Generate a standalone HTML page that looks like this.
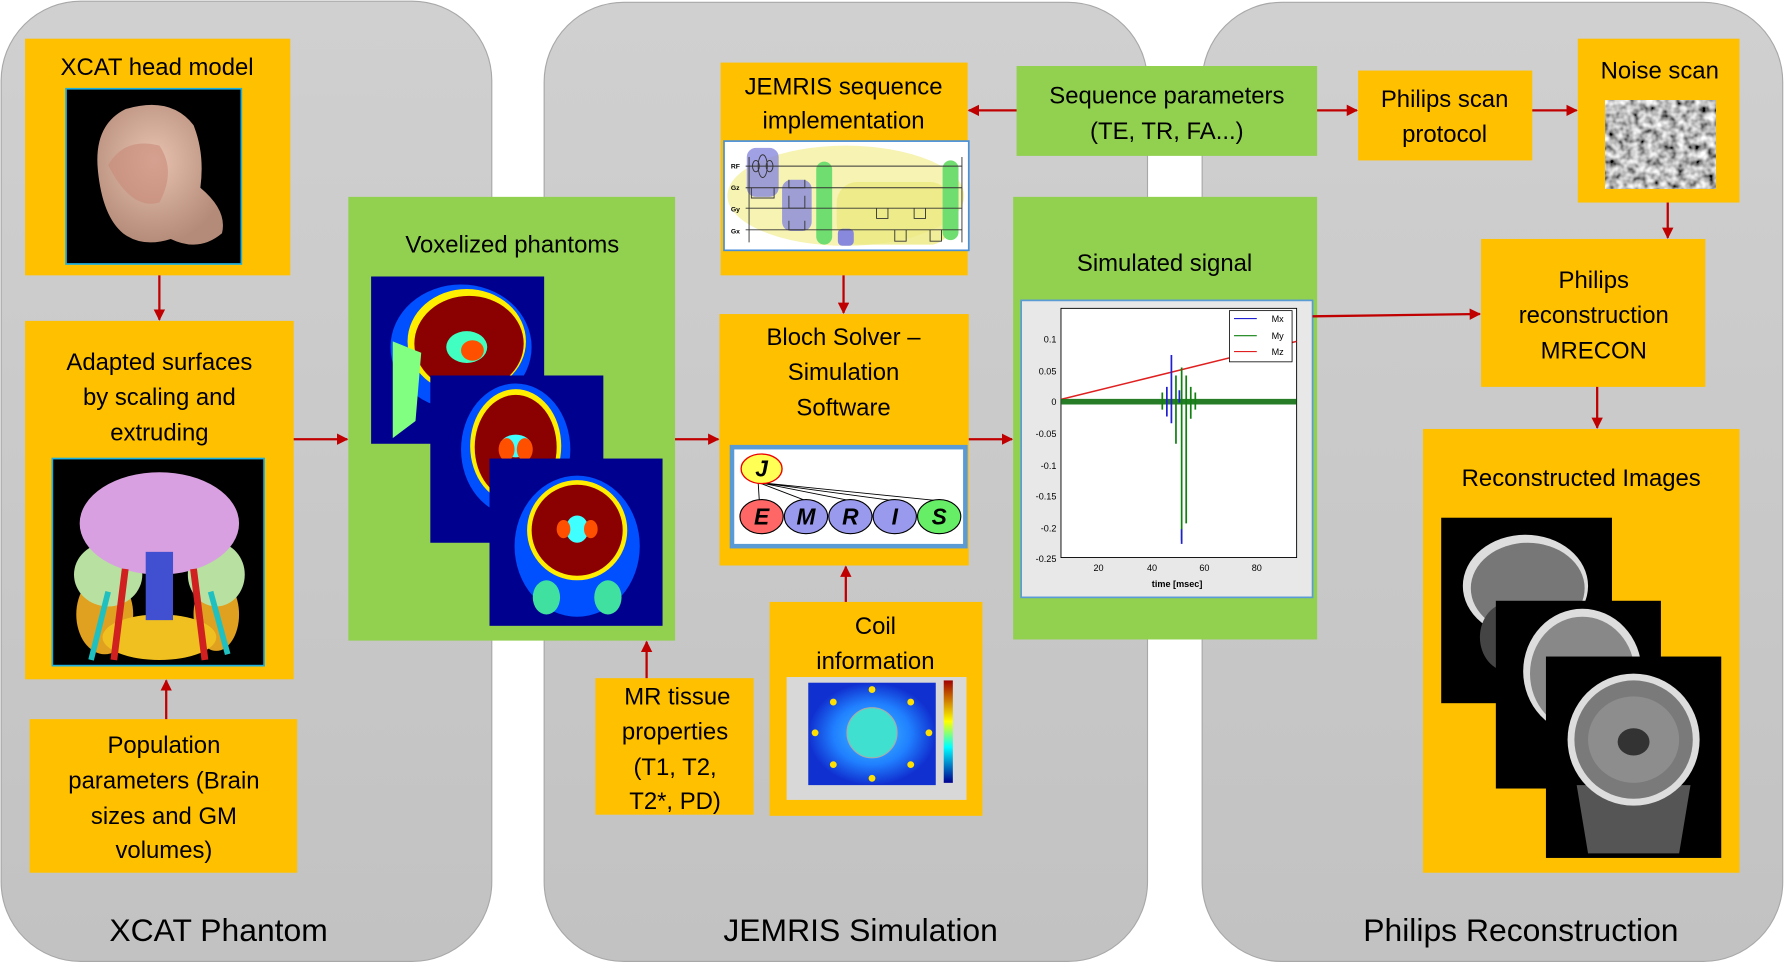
<!DOCTYPE html>
<html><head><meta charset="utf-8"><style>
html,body{margin:0;padding:0;background:#fff;width:1785px;height:974px;overflow:hidden}
svg{display:block}
text{font-family:"Liberation Sans",sans-serif;fill:#000}
</style></head><body>
<svg width="1785" height="974" viewBox="0 0 1568 856" preserveAspectRatio="none" xmlns="http://www.w3.org/2000/svg">
<defs>
<linearGradient id="pg" x1="0" y1="0" x2="0" y2="1"><stop offset="0" stop-color="#d0d0d0"/><stop offset="1" stop-color="#c2c2c2"/></linearGradient>
<marker id="ah" viewBox="0 0 10 10" refX="9" refY="5" markerWidth="5" markerHeight="5" orient="auto"><path d="M0,0L10,5L0,10z" fill="#C00000"/></marker>
<radialGradient id="skin" cx="0.45" cy="0.4" r="0.6"><stop offset="0" stop-color="#e8c2b0"/><stop offset="1" stop-color="#b48a78"/></radialGradient>
<radialGradient id="coil" cx="0.5" cy="0.5" r="0.5"><stop offset="0" stop-color="#40c0ff"/><stop offset="0.6" stop-color="#2080ff"/><stop offset="1" stop-color="#1030d0"/></radialGradient>
<linearGradient id="cbar" x1="0" y1="1" x2="0" y2="0"><stop offset="0" stop-color="#00008f"/><stop offset="0.35" stop-color="#00ffff"/><stop offset="0.6" stop-color="#ffff00"/><stop offset="1" stop-color="#a00000"/></linearGradient>
<filter id="nz" x="0" y="0" width="100%" height="100%"><feTurbulence type="fractalNoise" baseFrequency="0.18" numOctaves="2" seed="3"/><feColorMatrix type="matrix" values="0 0 0 0 0.5  0 0 0 0 0.5  0 0 0 0 0.5  3 3 3 0 -3.6" result="n"/><feComponentTransfer in="SourceGraphic"/></filter>
<filter id="nz2" x="0" y="0" width="100%" height="100%"><feTurbulence type="fractalNoise" baseFrequency="0.15" numOctaves="2" seed="5" result="t"/><feColorMatrix in="t" type="matrix" values="1.6 0 0 0 -0.3  1.6 0 0 0 -0.3  1.6 0 0 0 -0.3  0 0 0 0 1"/></filter>
</defs>

<!-- panels -->
<rect x="1" y="1" width="431" height="844" rx="70" fill="url(#pg)" stroke="#a8a8a8"/>
<rect x="478" y="2" width="530" height="843" rx="70" fill="url(#pg)" stroke="#a8a8a8"/>
<rect x="1056" y="2" width="510" height="843" rx="70" fill="url(#pg)" stroke="#a8a8a8"/>
<g font-size="28" text-anchor="middle">
<text x="192" y="827">XCAT Phantom</text>
<text x="756" y="827">JEMRIS Simulation</text>
<text x="1336" y="827">Philips Reconstruction</text>
</g>

<g fill="#FFC000">
<rect x="22" y="34" width="233" height="208"/>
<rect x="22" y="282" width="236" height="315"/>
<rect x="26" y="632" width="235" height="135"/>
<rect x="633" y="55" width="217" height="187"/>
<rect x="632" y="276" width="219" height="221"/>
<rect x="676" y="529" width="187" height="188"/>
<rect x="523" y="596" width="139" height="120"/>
<rect x="1193" y="62" width="153" height="79"/>
<rect x="1386" y="34" width="142" height="144"/>
<rect x="1301" y="210" width="197" height="130"/>
<rect x="1250" y="377" width="278" height="390"/>
</g>
<g fill="#92D050">
<rect x="306" y="173" width="287" height="390"/>
<rect x="893" y="58" width="264" height="79"/>
<rect x="890" y="173" width="267" height="389"/>
</g>

<g font-size="21" text-anchor="middle">
<text x="138" y="66">XCAT head model</text>
<text x="140" y="325">Adapted surfaces</text><text x="140" y="356">by scaling and</text><text x="140" y="387">extruding</text>
<text x="144" y="662">Population</text><text x="144" y="693">parameters (Brain</text><text x="144" y="724">sizes and GM</text><text x="144" y="754">volumes)</text>
<text x="450" y="222">Voxelized phantoms</text>
<text x="741" y="83">JEMRIS sequence</text><text x="741" y="113">implementation</text>
<text x="741" y="303">Bloch Solver –</text><text x="741" y="334">Simulation</text><text x="741" y="365">Software</text>
<text x="769" y="557">Coil</text><text x="769" y="588">information</text>
<text x="595" y="619">MR tissue</text><text x="593" y="650">properties</text><text x="593" y="681">(T1, T2,</text><text x="593" y="711">T2*, PD)</text>
<text x="1025" y="91">Sequence parameters</text><text x="1025" y="122">(TE, TR, FA...)</text>
<text x="1023" y="238">Simulated signal</text>
<text x="1269" y="94">Philips scan</text><text x="1269" y="125">protocol</text>
<text x="1458" y="69">Noise scan</text>
<text x="1400" y="253">Philips</text><text x="1400" y="284">reconstruction</text><text x="1400" y="315">MRECON</text>
<text x="1389" y="427">Reconstructed Images</text>
</g>

<!-- XCAT head image -->
<rect x="58" y="78" width="154" height="154" fill="#000" stroke="#1fb0e0" stroke-width="1.5"/>
<path d="M86,150 Q82,110 110,96 Q150,84 170,110 Q180,135 176,165 Q200,185 195,205 Q175,222 150,210 Q125,218 108,205 Q90,190 86,150z" fill="url(#skin)"/>
<path d="M95,145 Q110,120 140,128 Q155,150 140,178 Q115,185 95,145z" fill="#c98a7a" opacity="0.6"/>
<!-- brain surface image -->
<rect x="46" y="403" width="186" height="182" fill="#000" stroke="#1fb0e0" stroke-width="1.5"/>
<ellipse cx="92" cy="540" rx="25" ry="35" fill="#e0a020"/>
<ellipse cx="190" cy="540" rx="20" ry="32" fill="#e0a020"/>
<ellipse cx="140" cy="560" rx="50" ry="20" fill="#f0c020"/>
<ellipse cx="95" cy="505" rx="30" ry="28" fill="#b8e0a0"/>
<ellipse cx="190" cy="505" rx="25" ry="28" fill="#b8e0a0"/>
<ellipse cx="140" cy="460" rx="70" ry="45" fill="#d8a0e0"/>
<rect x="128" y="485" width="24" height="60" fill="#4050d0"/>
<path d="M110,500 L100,580 M170,500 L180,580" stroke="#d02020" stroke-width="6" fill="none"/>
<path d="M95,520 L80,580 M185,520 L200,575" stroke="#20c0c0" stroke-width="5" fill="none"/>

<!-- voxelized phantoms -->
<g>
<rect x="326" y="243" width="152" height="147" fill="#00008f"/>
<ellipse cx="405" cy="305" rx="62" ry="55" fill="#0050ff"/>
<ellipse cx="410" cy="300" rx="52" ry="46" fill="#ffee00"/>
<ellipse cx="412" cy="302" rx="48" ry="42" fill="#8b0000"/>
<ellipse cx="410" cy="305" rx="18" ry="14" fill="#40ffc0"/>
<ellipse cx="415" cy="308" rx="10" ry="9" fill="#ff5000"/>
<path d="M345,300 L370,310 L365,370 L345,385 Z" fill="#80ff80"/>
<rect x="378" y="330" width="152" height="147" fill="#00008f"/>
<ellipse cx="453" cy="395" rx="48" ry="58" fill="#0050ff"/>
<ellipse cx="453" cy="392" rx="40" ry="50" fill="#ffee00"/>
<ellipse cx="453" cy="393" rx="36" ry="46" fill="#8b0000"/>
<ellipse cx="453" cy="392" rx="14" ry="10" fill="#40ffff"/>
<ellipse cx="445" cy="395" rx="7" ry="10" fill="#ff5000"/><ellipse cx="461" cy="395" rx="7" ry="10" fill="#ff5000"/>
<rect x="430" y="403" width="152" height="147" fill="#00008f"/>
<ellipse cx="507" cy="480" rx="55" ry="62" fill="#0050ff"/>
<ellipse cx="507" cy="466" rx="44" ry="44" fill="#ffee00"/>
<ellipse cx="507" cy="466" rx="40" ry="40" fill="#8b0000"/>
<ellipse cx="507" cy="465" rx="10" ry="12" fill="#40ffff"/>
<ellipse cx="495" cy="465" rx="6" ry="8" fill="#ff5000"/><ellipse cx="519" cy="465" rx="6" ry="8" fill="#ff5000"/>
<ellipse cx="480" cy="525" rx="12" ry="15" fill="#40e0a0"/><ellipse cx="534" cy="525" rx="12" ry="15" fill="#40e0a0"/>
</g>

<!-- sequence diagram -->
<rect x="636" y="124" width="215" height="96" fill="#fff" stroke="#4a90d9" stroke-width="1.5"/>
<ellipse cx="743" cy="172" rx="104" ry="44" fill="#f4f0a0" opacity="0.8"/>
<rect x="735" y="160" width="100" height="55" rx="18" fill="#ecea80" opacity="0.8"/>
<rect x="656" y="130" width="28" height="43" rx="8" fill="#8888dd" opacity="0.8"/>
<rect x="687" y="158" width="26" height="45" rx="8" fill="#8888dd" opacity="0.8"/>
<rect x="736" y="201" width="14" height="15" rx="4" fill="#8888dd"/>
<rect x="717" y="142" width="14" height="73" rx="7" fill="#70dd70"/>
<rect x="828" y="141" width="14" height="70" rx="7" fill="#70dd70"/>
<g stroke="#333" stroke-width="0.8" fill="none">
<path d="M655,146H845M655,165H845M655,183H845M655,202H845"/>
<path d="M658,138V213M845,138V213"/>
<ellipse cx="670" cy="146" rx="4" ry="10"/><ellipse cx="664" cy="146" rx="3" ry="5"/><ellipse cx="676" cy="146" rx="3" ry="5"/>
<path d="M660,165v9h20v-9M693,158v7h14v-7M693,172v11h14v-11M693,194v8h14v-8"/>
<path d="M770,183v9h10v-9M803,183v9h10v-9M786,202v10h10v-10M817,202v10h10v-10"/>
</g>
<g font-size="6" font-weight="bold"><text x="642" y="148">RF</text><text x="642" y="167">Gz</text><text x="642" y="186">Gy</text><text x="642" y="205">Gx</text></g>

<!-- JEMRIS logo -->
<rect x="643" y="393" width="205" height="87" fill="#fff" stroke="#5b9bd5" stroke-width="4"/>
<g stroke="#000" stroke-width="0.8"><path d="M666,424L667,440M666,424L708,440M666,424L747,440M666,424L785,440M666,424L824,440"/></g>
<ellipse cx="669" cy="412" rx="18" ry="13" fill="#ffff55" stroke="#e00" stroke-width="1.2"/>
<ellipse cx="669" cy="454" rx="19" ry="15" fill="#ff6666" stroke="#000"/>
<ellipse cx="708" cy="454" rx="19" ry="15" fill="#9999ee" stroke="#000"/>
<ellipse cx="747" cy="454" rx="19" ry="15" fill="#9999ee" stroke="#000"/>
<ellipse cx="786" cy="454" rx="19" ry="15" fill="#9999ee" stroke="#000"/>
<ellipse cx="825" cy="454" rx="19" ry="15" fill="#66ee66" stroke="#000"/>
<g font-size="20" font-weight="bold" font-style="italic" text-anchor="middle" fill="#333">
<text x="669" y="419">J</text><text x="669" y="461">E</text><text x="708" y="461">M</text><text x="747" y="461">R</text><text x="786" y="461">I</text><text x="825" y="461">S</text>
</g>

<!-- coil image -->
<rect x="691" y="595" width="158" height="108" fill="#d8d8d8"/>
<rect x="710" y="600" width="112" height="90" fill="url(#coil)"/>
<circle cx="766" cy="644" r="22" fill="#40e0d0" stroke="#aaa"/>
<g fill="#ffe000"><circle cx="766" cy="606" r="3"/><circle cx="766" cy="684" r="3"/><circle cx="716" cy="644" r="3"/><circle cx="816" cy="644" r="3"/><circle cx="732" cy="617" r="3"/><circle cx="800" cy="617" r="3"/><circle cx="732" cy="672" r="3"/><circle cx="800" cy="672" r="3"/></g>
<rect x="829" y="598" width="8" height="90" fill="url(#cbar)"/>

<!-- signal plot -->
<rect x="897" y="264" width="256" height="261" fill="#e8e8e8" stroke="#5b9bd5" stroke-width="1.5"/>
<rect x="932" y="271" width="207" height="219" fill="#fff" stroke="#000" stroke-width="0.8"/>
<g font-size="8" text-anchor="end">
<text x="928" y="301">0.1</text><text x="928" y="329">0.05</text><text x="928" y="356">0</text><text x="928" y="384">-0.05</text><text x="928" y="412">-0.1</text><text x="928" y="439">-0.15</text><text x="928" y="467">-0.2</text><text x="928" y="494">-0.25</text>
</g>
<g font-size="8" text-anchor="middle"><text x="965" y="502">20</text><text x="1012" y="502">40</text><text x="1058" y="502">60</text><text x="1104" y="502">80</text><text x="1034" y="516" font-weight="bold">time [msec]</text></g>
<path d="M932,351 L1139,300" stroke="#e02020" stroke-width="1.3" fill="none"/>
<path d="M932,353 h207" stroke="#107010" stroke-width="5" opacity="0.9"/>
<g stroke="#2020d0" stroke-width="1.5"><path d="M1029,312V372M1025,340V366M1036,343V354"/></g>
<g stroke="#108010" stroke-width="1.5"><path d="M1033,330V390M1038,323V475M1042,330V460M1046,340V368M1021,345V360M1050,345V360"/></g>
<path d="M1038,465V478" stroke="#2020d0" stroke-width="1.5"/>
<rect x="1080" y="273" width="55" height="45" fill="#fff" stroke="#000" stroke-width="0.7"/>
<path d="M1084,280h20" stroke="#2020d0"/><path d="M1084,295h20" stroke="#108010"/><path d="M1084,309h20" stroke="#e02020"/>
<g font-size="8"><text x="1117" y="283">Mx</text><text x="1117" y="298">My</text><text x="1117" y="312">Mz</text></g>

<!-- noise -->
<rect x="1410" y="88" width="97" height="78" fill="#888" filter="url(#nz2)"/>

<!-- reconstructed images -->
<rect x="1266" y="455" width="150" height="163" fill="#000"/>
<ellipse cx="1340" cy="515" rx="55" ry="45" fill="#ddd"/>
<ellipse cx="1342" cy="517" rx="50" ry="40" fill="#777"/>
<ellipse cx="1325" cy="560" rx="25" ry="30" fill="#444"/>
<rect x="1314" y="528" width="145" height="165" fill="#000"/>
<ellipse cx="1390" cy="590" rx="52" ry="55" fill="#ddd"/>
<ellipse cx="1390" cy="592" rx="46" ry="50" fill="#888"/>
<rect x="1358" y="577" width="154" height="177" fill="#000"/>
<path d="M1385,690 L1395,750 H1475 L1485,690 Z" fill="#555"/>
<ellipse cx="1435" cy="650" rx="58" ry="58" fill="#ddd"/>
<ellipse cx="1435" cy="650" rx="52" ry="52" fill="#7a7a7a"/>
<ellipse cx="1435" cy="650" rx="40" ry="38" fill="#999" opacity="0.6"/>
<ellipse cx="1435" cy="652" rx="14" ry="12" fill="#333"/>

<!-- arrows -->
<g stroke="#C00000" stroke-width="2" fill="none" marker-end="url(#ah)">
<path d="M140,242V281"/>
<path d="M146,632V598"/>
<path d="M258,386H305"/>
<path d="M593,386H631"/>
<path d="M741,242V275"/>
<path d="M743,529V498"/>
<path d="M568,596V564"/>
<path d="M851,386H889"/>
<path d="M893,97H851"/>
<path d="M1157,97H1192"/>
<path d="M1346,97H1385"/>
<path d="M1465,178V209"/>
<path d="M1153,278L1300,276"/>
<path d="M1403,340V376"/>
</g>
</svg>
</body></html>
